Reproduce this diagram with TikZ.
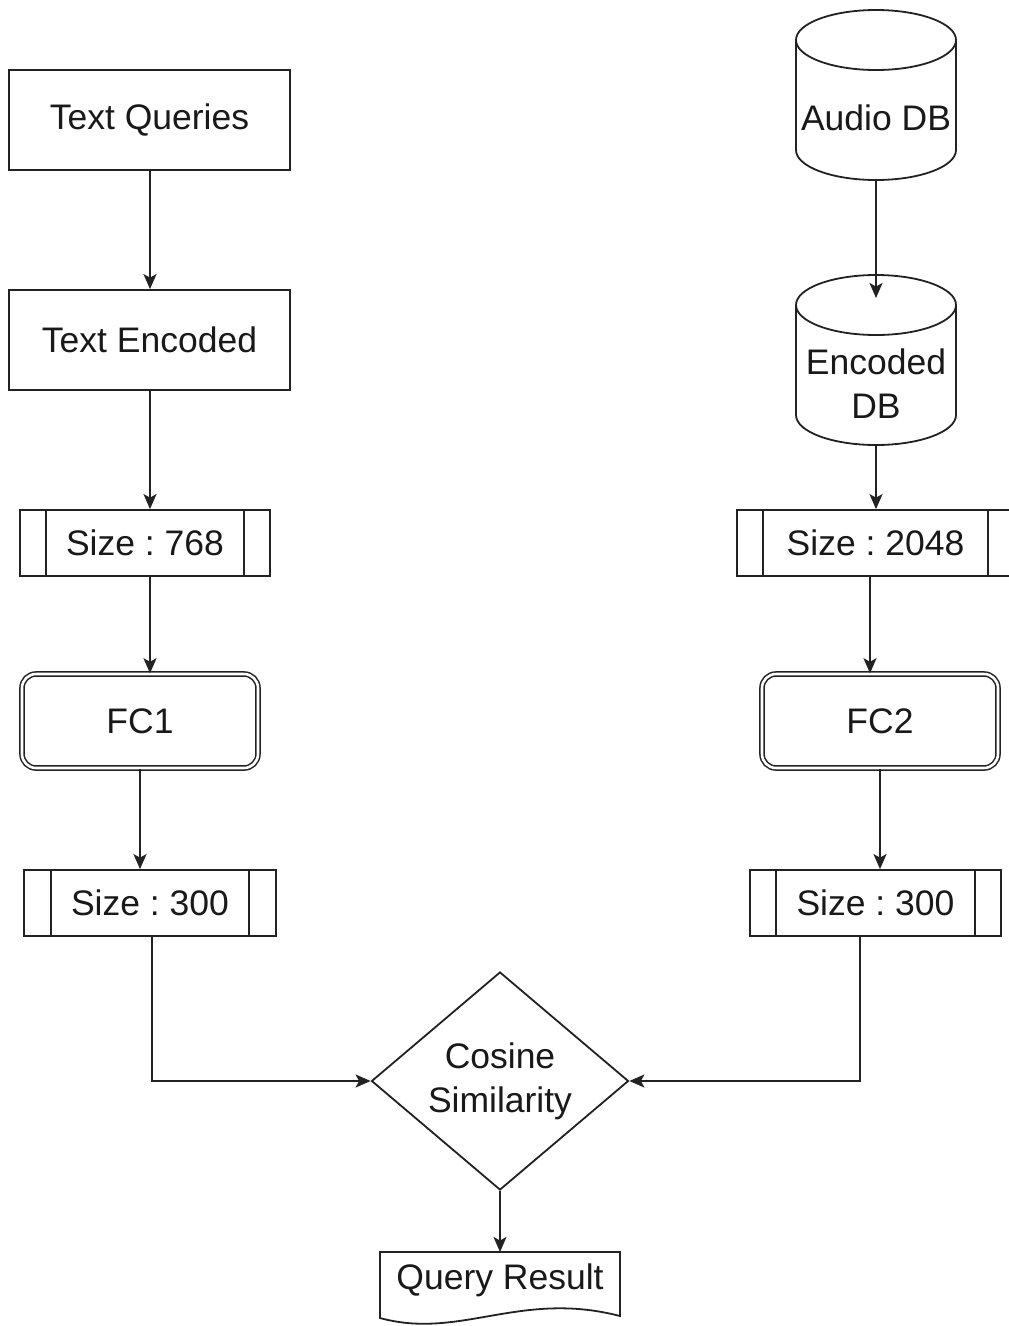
\documentclass[tikz,border=0pt]{standalone}
\usepackage{fontspec}
\setmainfont{Liberation Sans}
\usetikzlibrary{shapes.geometric,arrows.meta,calc}
\definecolor{lncol}{HTML}{222222}
\frenchspacing
\begin{document}
\begin{tikzpicture}[x=1pt,y=-1pt,
  every node/.style={font=\fontsize{35.5}{44}\selectfont, text=black!90},
  ln/.style={draw=lncol, line width=1.8pt},
  box/.style={ln, rectangle, minimum width=281pt, minimum height=100pt, inner sep=0pt},
  pproc/.style={ln, rectangle, minimum height=66pt, inner sep=0pt,
    path picture={
      \draw[ln] ([xshift=#1]path picture bounding box.north west) -- ([xshift=#1]path picture bounding box.south west);
      \draw[ln] ([xshift=-#1]path picture bounding box.north east) -- ([xshift=-#1]path picture bounding box.south east);}},
  pproc/.default=26pt,
  fcbox/.style={draw=lncol, double=white, double distance=2.6pt, line width=1.5pt,
    rounded corners=14pt, minimum width=236pt, minimum height=94pt, inner sep=0pt},
  cyltext/.style={inner sep=0pt, align=center, minimum width=160pt},
  arr/.style={ln, -{Stealth[length=15pt,width=13pt,inset=3.5pt]}},
  plain/.style={ln, -}
]
\fill[white] (0,0) rectangle (1009,1326);
\useasboundingbox (0,0) rectangle (1009,1326);

% left column
\node[box] (tq) at (149.5,120) {Text Queries};
\node[box] (te) at (149.5,340) {Text Encoded};
\node[pproc, minimum width=250pt] (s768) at (145,543) {Size : 768};
\node[fcbox] (fc1) at (140,721) {FC1};
\node[pproc=27pt, minimum width=252pt] (s300l) at (150,903) {Size : 300};

% right column: cylinders
\draw[ln, fill=white] (796,40) -- (796,150) arc[start angle=180, end angle=0, x radius=80, y radius=30] -- (956,40);
\draw[ln] (876,40) ellipse[x radius=80, y radius=30];
\node[cyltext, minimum height=124pt] (adb) at (876,118) {Audio DB};

\draw[ln, fill=white] (796,305) -- (796,415) arc[start angle=180, end angle=0, x radius=80, y radius=30] -- (956,305);
\draw[ln] (876,305) ellipse[x radius=80, y radius=30];
\node[cyltext, minimum height=122pt] (edb) at (876,384) {Encoded\\DB};
\coordinate (edbtop) at (876,298);

\node[pproc, minimum width=277pt] (s2048) at (875.5,543) {Size : 2048};
\node[fcbox] (fc2) at (880,721) {FC2};
\node[pproc, minimum width=251pt] (s300r) at (875.5,903) {Size : 300};

% bottom
\node[ln, diamond, aspect=1.18, minimum width=257pt, minimum height=218pt, inner sep=0pt, align=center] (cos) at (500,1081) {Cosine\\Similarity};
\node[inner sep=0pt, minimum width=240pt, minimum height=56pt] (qr) at (500,1280) {Query Result};
\draw[ln] (380,1252) -- (620,1252) -- (620,1316)
  .. controls (520,1290) and (460,1340) .. (380,1318) -- cycle;

% connectors
\draw[arr] ([xshift=0.5pt]tq.south) -- ([xshift=0.5pt]te.north);
\draw[arr] ([xshift=0.5pt]te.south) -- ([xshift=0.5pt]te.south |- s768.north);
\draw[arr] ([xshift=5pt]s768.south) -- ([xshift=5pt]s768.south |- fc1.north);
\draw[arr] (fc1.south) -- (fc1.south |- s300l.north);
\draw[arr] ([xshift=2pt]s300l.south) |- (cos.west);

\draw[arr] (adb.south) -- (edbtop);
\draw[arr] (edb.south) -- (edb.south |- s2048.north);
\draw[arr] ([xshift=-5.5pt]s2048.south) -- ([xshift=-5.5pt]s2048.south |- fc2.north);
\draw[arr] (fc2.south) -- (fc2.south |- s300r.north);
\draw[arr] ([xshift=-15.5pt]s300r.south) |- (cos.east);
\draw[arr] (cos.south) -- (500,1252);
\end{tikzpicture}
\end{document}
